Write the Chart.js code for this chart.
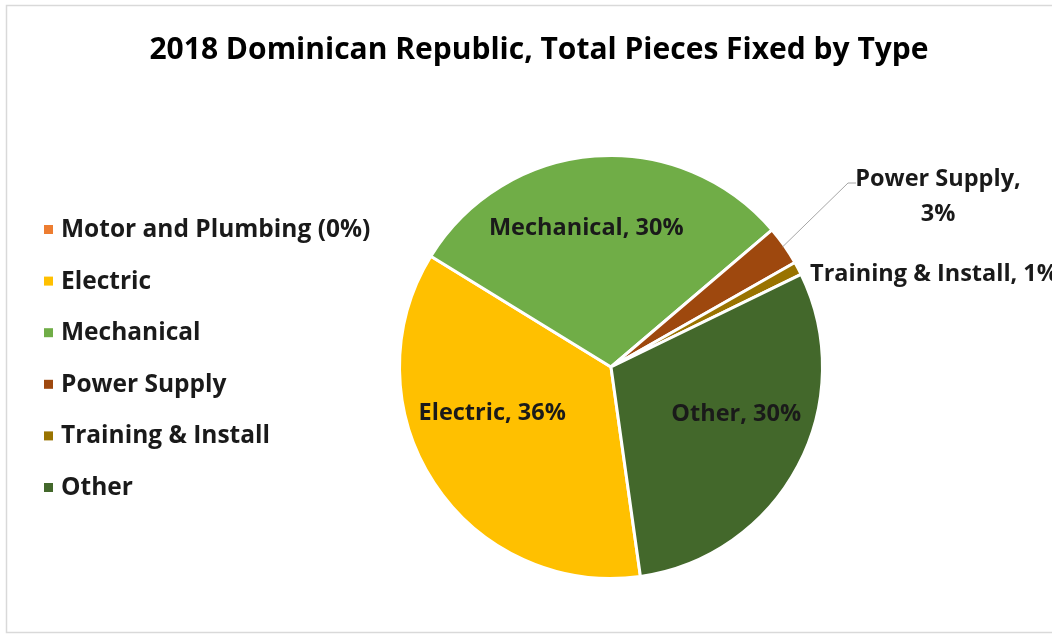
<!DOCTYPE html>
<html>
<head>
<meta charset="utf-8">
<title>2018 Dominican Republic, Total Pieces Fixed by Type</title>
<script src="https://cdn.jsdelivr.net/npm/chart.js@4/dist/chart.umd.min.js"></script>
<style>
  html, body { margin: 0; padding: 0; background: #fff; overflow: hidden; }
  #wrap { position: relative; width: 1052px; height: 636px; }
</style>
</head>
<body>
<div id="wrap"><canvas id="pieChart"></canvas></div>
<script>
// chart data
const chartTitle = '2018 Dominican Republic, Total Pieces Fixed by Type';
const categories = ['Motor and Plumbing', 'Electric', 'Mechanical', 'Power Supply', 'Training & Install', 'Other'];
const legendLabels = ['Motor and Plumbing (0%)', 'Electric', 'Mechanical', 'Power Supply', 'Training & Install', 'Other'];
const shares = [0, 36, 30, 3, 1, 30];
const colors = ['#ED7D31', '#FFC000', '#70AD47', '#9E480E', '#997300', '#43682B'];

const FONT = '"Open Sans", Lato, sans-serif';

// fit a bold font so the text has the wanted width (Calibri-like metrics)
function fitFont(ctx, text, width, maxSize) {
    let size = maxSize;
    ctx.font = `bold ${size}px ${FONT}`;
    while (size > 8 && ctx.measureText(text).width > width) {
        size -= 0.5;
        ctx.font = `bold ${size}px ${FONT}`;
    }
    return size;
}

// title, frame and legend drawn on the canvas
const decorPlugin = {
    id: 'decor',
    afterDraw(chart) {
        const ctx = chart.ctx;
        ctx.save();
        // faint frame
        ctx.strokeStyle = '#d9d9d9';
        ctx.lineWidth = 1.5;
        ctx.strokeRect(6.5, 5.5, 1100, 627);

        // title
        ctx.fillStyle = '#000';
        fitFont(ctx, chartTitle, 792, 32);
        ctx.textAlign = 'center';
        ctx.textBaseline = 'middle';
        ctx.fillText(chartTitle, 539, 50);

        // legend
        fitFont(ctx, legendLabels[0], 312, 26);
        ctx.textAlign = 'left';
        legendLabels.forEach((lbl, i) => {
            const y = 229 + i * 51.6;
            ctx.fillStyle = colors[i];
            ctx.fillRect(44, y - 4, 9, 9);
            ctx.fillStyle = '#1a1a1a';
            ctx.fillText(lbl, 61, y + 1);
        });
        ctx.restore();
    }
};

// data labels: inside for big slices, outside for the thin ones
const labelNudge = { 1: [-2, -30], 2: [-14, 0], 5: [2, -18] };
const dataLabelPlugin = {
    id: 'sliceLabels',
    afterDatasetsDraw(chart) {
        const ctx = chart.ctx;
        const meta = chart.getDatasetMeta(0);
        ctx.save();
        fitFont(ctx, 'Mechanical, 30%', 195, 25);
        ctx.fillStyle = '#1a1a1a';
        ctx.textBaseline = 'middle';
        meta.data.forEach((arc, i) => {
            if (!shares[i]) return;
            const { x, y, startAngle, endAngle, outerRadius } = arc.getProps(['x', 'y', 'startAngle', 'endAngle', 'outerRadius'], true);
            const mid = (startAngle + endAngle) / 2;
            const text = categories[i] + ', ' + shares[i] + '%';
            if (shares[i] >= 10) {
                const [nx, ny] = labelNudge[i] || [0, 0];
                ctx.textAlign = 'center';
                ctx.fillText(text, x + Math.cos(mid) * outerRadius * 0.66 + nx, y + Math.sin(mid) * outerRadius * 0.66 + ny);
            } else if (i === 3) {
                // leader line to two-line label
                const ex = x + Math.cos(mid) * (outerRadius - 2);
                const ey = y + Math.sin(mid) * (outerRadius - 2);
                ctx.strokeStyle = '#a6a6a6';
                ctx.lineWidth = 1;
                ctx.beginPath();
                ctx.moveTo(ex, ey);
                ctx.lineTo(848, 183);
                ctx.lineTo(856, 183);
                ctx.stroke();
                ctx.textAlign = 'center';
                ctx.fillText(categories[i] + ',', 938, 179);
                ctx.fillText(shares[i] + '%', 938, 214);
            } else {
                ctx.textAlign = 'left';
                const ex = x + Math.cos(mid) * outerRadius;
                const ey = y + Math.sin(mid) * outerRadius;
                ctx.fillText(text, ex + 12, ey + 6);
            }
        });
        ctx.restore();
    }
};

new Chart(document.getElementById('pieChart'), {
    type: 'pie',
    data: {
        labels: categories,
        datasets: [{
            data: shares,
            backgroundColor: colors,
            borderColor: '#ffffff',
            borderWidth: 3
        }]
    },
    options: {
        responsive: true,
        maintainAspectRatio: false,
        animation: false,
        rotation: 172,
        layout: { padding: { left: 398, right: 228, top: 154, bottom: 56 } },
        plugins: {
            legend: { display: false },
            title: { display: false },
            tooltip: { enabled: false }
        }
    },
    plugins: [decorPlugin, dataLabelPlugin]
});
</script>
</body>
</html>
